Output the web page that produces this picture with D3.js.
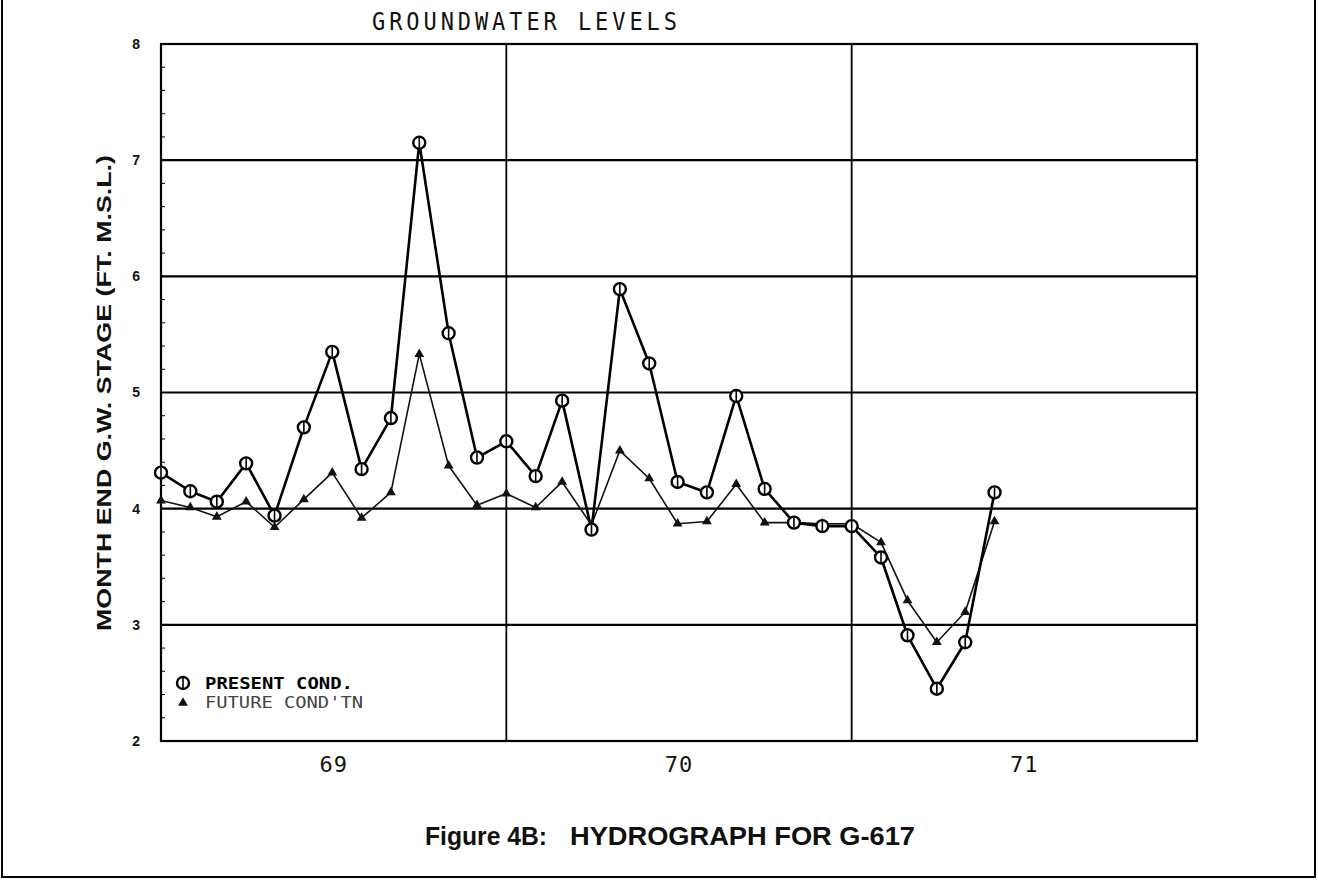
<!DOCTYPE html>
<html>
<head>
<meta charset="utf-8">
<script src="https://cdn.jsdelivr.net/npm/d3@7"></script>
<style>
  html, body { margin: 0; padding: 0; background: #fff; }
  svg { display: block; }
</style>
</head>
<body>
<svg id="chart" width="1318" height="880"></svg>
<script>
// Month-end observations, Dec 1968 through May 1971
const months = [
  "1968-12",
  "1969-01", "1969-02", "1969-03", "1969-04", "1969-05", "1969-06",
  "1969-07", "1969-08", "1969-09", "1969-10", "1969-11", "1969-12",
  "1970-01", "1970-02", "1970-03", "1970-04", "1970-05", "1970-06",
  "1970-07", "1970-08", "1970-09", "1970-10", "1970-11", "1970-12",
  "1971-01", "1971-02", "1971-03", "1971-04", "1971-05"
];

// Stage, ft above mean sea level
const presentCond = [
  4.31, 4.15, 4.06, 4.39, 3.94, 4.70, 5.35, 4.34, 4.78, 7.15,
  5.51, 4.44, 4.58, 4.28, 4.93, 3.82, 5.89, 5.25, 4.23, 4.14,
  4.97, 4.17, 3.88, 3.85, 3.85, 3.58, 2.91, 2.45, 2.85, 4.14
];
const futureCond = [
  4.07, 4.01, 3.93, 4.06, 3.84, 4.08, 4.31, 3.92, 4.14, 5.33,
  4.37, 4.03, 4.13, 4.01, 4.23, 3.86, 4.50, 4.26, 3.87, 3.89,
  4.21, 3.88, 3.88, 3.87, 3.87, 3.71, 3.21, 2.85, 3.11, 3.89
];

const yTicks = [2, 3, 4, 5, 6, 7, 8];
const gridLevels = [3, 4, 5, 6, 7];
const years = [1969, 1970, 1971];

const svg = d3.select("#chart");
const plotL = 161, plotR = 1197, plotT = 44, plotB = 741;

const parseMonth = d3.timeParse("%Y-%m");
// a month-end value sits on the boundary with the following month
const dates = months.map(m => d3.timeMonth.offset(parseMonth(m), 1));

const x = d3.scaleTime()
  .domain([new Date(years[0], 0, 1), new Date(years[years.length - 1] + 1, 0, 1)])
  .range([plotL, plotR]);
const y = d3.scaleLinear().domain([2, 8]).range([plotB, plotT]);

// outer page frame (left, right, bottom edges)
svg.append("path")
  .attr("d", "M2,0 V877 H1315 V0")
  .attr("fill", "none").attr("stroke", "#000").attr("stroke-width", 2);

// title, in a tall narrow plotter lettering
svg.append("text")
  .attr("transform", "translate(372,30) scale(1,1.12)")
  .attr("font-family", "DejaVu Sans Mono")
  .attr("font-size", 22)
  .attr("textLength", 305).attr("lengthAdjust", "spacing")
  .attr("fill", "#111")
  .text("GROUNDWATER LEVELS");

// horizontal grid lines
svg.append("g").selectAll("line").data(gridLevels).join("line")
  .attr("x1", plotL).attr("x2", plotR)
  .attr("y1", d => y(d)).attr("y2", d => y(d))
  .attr("stroke", "#000").attr("stroke-width", 2.2);

// year dividers
svg.append("g").selectAll("line").data(years.slice(1)).join("line")
  .attr("x1", d => x(new Date(d, 0, 1))).attr("x2", d => x(new Date(d, 0, 1)))
  .attr("y1", plotT).attr("y2", plotB)
  .attr("stroke", "#000").attr("stroke-width", 1.8);

// minor ticks along the left axis
svg.append("g").selectAll("line").data(d3.range(2, 8.001, 0.2)).join("line")
  .attr("x1", plotL).attr("x2", plotL + 4)
  .attr("y1", d => y(d)).attr("y2", d => y(d))
  .attr("stroke", "#000").attr("stroke-width", 1);

// plot frame
svg.append("rect")
  .attr("x", plotL).attr("y", plotT)
  .attr("width", plotR - plotL).attr("height", plotB - plotT)
  .attr("fill", "none").attr("stroke", "#000").attr("stroke-width", 2.2);

// y axis labels
const yAxis = d3.axisLeft(y).tickValues(yTicks).tickSize(0).tickPadding(21).tickFormat(d3.format("d"));
const gy = svg.append("g").attr("transform", `translate(${plotL},0)`).call(yAxis);
gy.select(".domain").remove();
gy.selectAll("text")
  .attr("font-family", "Liberation Sans").attr("font-weight", "bold")
  .attr("font-size", 14).attr("fill", "#111");

// x axis: year labels centred on each year
const xAxis = d3.axisBottom(x)
  .tickValues(years.map(yr => new Date(yr, 6, 2)))
  .tickSize(0).tickPadding(15)
  .tickFormat(d3.timeFormat("%y"));
const gx = svg.append("g").attr("transform", `translate(0,${plotB})`).call(xAxis);
gx.select(".domain").remove();
gx.selectAll("text")
  .attr("font-family", "DejaVu Sans Mono").attr("font-size", 22)
  .attr("letter-spacing", 1).attr("fill", "#111");

// y axis title
svg.append("text")
  .attr("transform", `translate(111,${(155 + 631) / 2}) rotate(-90)`)
  .attr("text-anchor", "middle")
  .attr("font-family", "Liberation Sans").attr("font-weight", "bold")
  .attr("font-size", 21)
  .attr("textLength", 476).attr("lengthAdjust", "spacingAndGlyphs")
  .attr("fill", "#111")
  .text("MONTH END G.W. STAGE (FT. M.S.L.)");

// series lines
const line = (vals) => d3.line()
  .x((d, i) => x(dates[i]))
  .y(d => y(d))(vals);

svg.append("path").attr("d", line(futureCond))
  .attr("fill", "none").attr("stroke", "#111").attr("stroke-width", 1.6)
  .attr("stroke-linejoin", "round");
svg.append("path").attr("d", line(presentCond))
  .attr("fill", "none").attr("stroke", "#000").attr("stroke-width", 2.6)
  .attr("stroke-linejoin", "round");

// markers
const tri = d3.symbol().type(d3.symbolTriangle).size(42);
function drawTriangle(g, cx, cy) {
  g.append("path").attr("d", tri())
    .attr("transform", `translate(${cx},${cy})`)
    .attr("fill", "#111");
}
function drawCircle(g, cx, cy) {
  g.append("circle").attr("cx", cx).attr("cy", cy).attr("r", 6)
    .attr("fill", "#fff").attr("stroke", "#000").attr("stroke-width", 2.4);
  g.append("line").attr("x1", cx).attr("x2", cx).attr("y1", cy - 5).attr("y2", cy + 5)
    .attr("stroke", "#000").attr("stroke-width", 1.6);
}

const gFut = svg.append("g");
futureCond.forEach((v, i) => drawTriangle(gFut, x(dates[i]), y(v)));
const gPre = svg.append("g");
presentCond.forEach((v, i) => drawCircle(gPre, x(dates[i]), y(v)));

// legend
const gl = svg.append("g");
drawCircle(gl, 183, 683);
gl.append("text").attr("x", 205).attr("y", 689)
  .attr("font-family", "DejaVu Sans Mono").attr("font-weight", "bold")
  .attr("font-size", 15).attr("textLength", 148).attr("lengthAdjust", "spacingAndGlyphs")
  .attr("fill", "#000").text("PRESENT COND.");
drawTriangle(gl, 183, 703);
gl.append("text").attr("x", 205).attr("y", 708)
  .attr("font-family", "DejaVu Sans Mono")
  .attr("font-size", 15).attr("textLength", 158).attr("lengthAdjust", "spacingAndGlyphs")
  .attr("fill", "#444").text("FUTURE COND'TN");

// caption
const cap = svg.append("text")
  .attr("y", 845)
  .attr("font-family", "Liberation Sans").attr("font-weight", "bold")
  .attr("font-size", 26).attr("fill", "#111");
cap.append("tspan").attr("x", 425)
  .attr("textLength", 122).attr("lengthAdjust", "spacingAndGlyphs")
  .text("Figure 4B:");
cap.append("tspan").attr("x", 570)
  .attr("textLength", 345).attr("lengthAdjust", "spacingAndGlyphs")
  .text("HYDROGRAPH FOR G-617");
</script>
</body>
</html>
